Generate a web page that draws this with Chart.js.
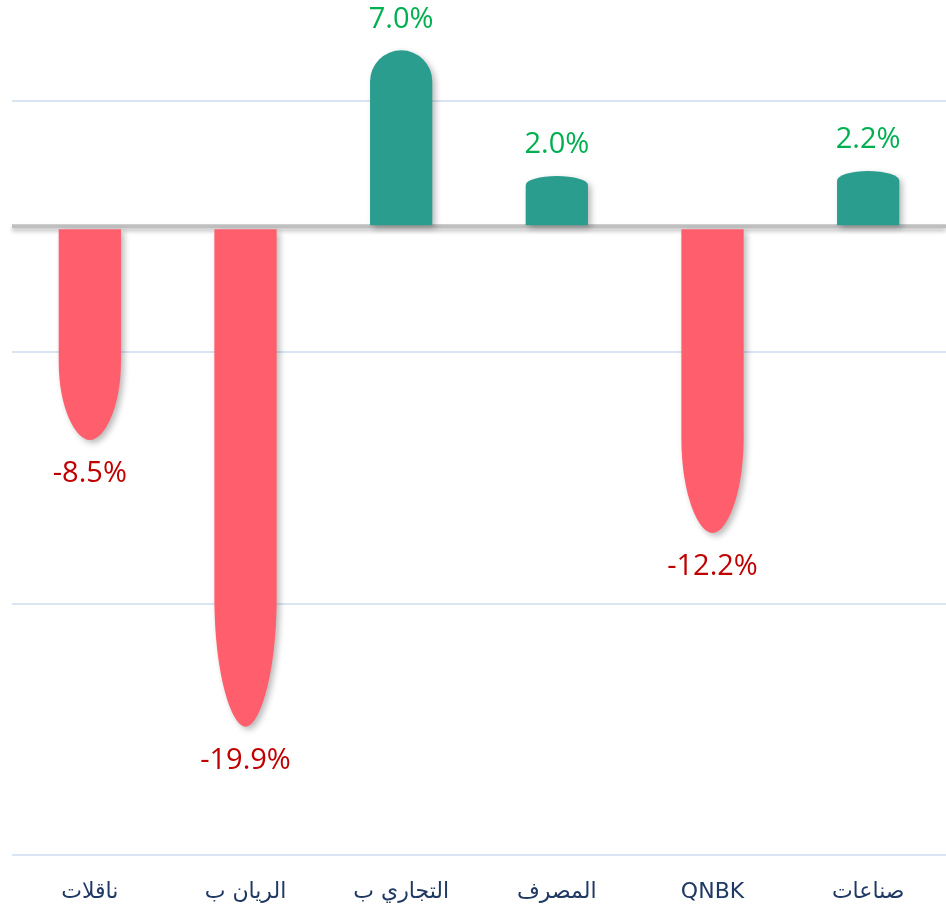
<!DOCTYPE html>
<html>
<head>
<meta charset="utf-8">
<script src="https://cdn.jsdelivr.net/npm/chart.js@4.4.1/dist/chart.umd.min.js"></script>
<style>
    html, body { margin: 0; padding: 0; background: #ffffff; }
    #wrap { width: 946px; height: 908px; position: relative; }
</style>
</head>
<body>
<div id="wrap"><canvas id="changeChart"></canvas></div>
<script>
// Chart data
const categories = ['ناقلات', 'الريان ب', 'التجاري ب', 'المصرف', 'QNBK', 'صناعات'];
const changes = [-8.5, -19.9, 7.0, 2.0, -12.2, 2.2];
const gridTicks = [-25, -15, -5, 0, 5];

const UP_FILL = '#2A9D8F';
const DOWN_FILL = '#FF5F6D';
const UP_TEXT = '#00B050';
const DOWN_TEXT = '#C00000';

// Draw bars with rounded / bullet shaped ends using the element geometry
const bulletBars = {
    id: 'bulletBars',
    beforeDatasetDraw(chart, args) {
        const ctx = chart.ctx;
        const meta = args.meta;
        meta.data.forEach((el, i) => {
            const { x, y, base, width } = el.getProps(['x', 'y', 'base', 'width'], true);
            const hw = width / 2;
            const v = changes[i];
            ctx.save();
            ctx.shadowColor = 'rgba(0,0,0,0.28)';
            ctx.shadowBlur = 6;
            ctx.shadowOffsetX = 3;
            ctx.shadowOffsetY = 3;
            ctx.beginPath();
            if (v >= 0) {
                const h = base - y;
                const ry = Math.min(hw, 0.18 * h);
                ctx.moveTo(x - hw, base);
                ctx.lineTo(x - hw, y + ry);
                ctx.ellipse(x, y + ry, hw, ry, 0, Math.PI, 2 * Math.PI);
                ctx.lineTo(x + hw, base);
                ctx.fillStyle = UP_FILL;
            } else {
                const h = y - base;
                const ry = Math.min(h, 40 + 0.18 * h);
                ctx.moveTo(x - hw, base + 2);
                ctx.lineTo(x - hw, y - ry);
                ctx.bezierCurveTo(x - hw, y - ry * 0.4, x - hw * 0.45, y, x, y);
                ctx.bezierCurveTo(x + hw * 0.45, y, x + hw, y - ry * 0.4, x + hw, y - ry);
                ctx.lineTo(x + hw, base + 2);
                ctx.fillStyle = DOWN_FILL;
            }
            ctx.closePath();
            ctx.fill();
            ctx.restore();
        });
        return false;
    }
};

// Percent labels at the end of each bar
const valueLabels = {
    id: 'valueLabels',
    afterDatasetsDraw(chart) {
        const ctx = chart.ctx;
        const meta = chart.getDatasetMeta(0);
        ctx.save();
        ctx.font = '29px "Open Sans", "Noto Sans", sans-serif';
        ctx.textAlign = 'center';
        ctx.textBaseline = 'middle';
        meta.data.forEach((el, i) => {
            const v = changes[i];
            const txt = v.toFixed(1) + '%';
            if (v >= 0) {
                ctx.fillStyle = UP_TEXT;
                ctx.fillText(txt, el.x, el.y - 31);
            } else {
                ctx.fillStyle = DOWN_TEXT;
                ctx.fillText(txt, el.x, el.y + 34);
            }
        });
        ctx.restore();
    }
};

// Shadow under the zero line
const zeroShadow = {
    id: 'zeroShadow',
    beforeDatasetsDraw(chart) {
        const ctx = chart.ctx;
        const area = chart.chartArea;
        const y0 = chart.scales.y.getPixelForValue(0);
        ctx.save();
        ctx.shadowColor = 'rgba(0,0,0,0.25)';
        ctx.shadowBlur = 4;
        ctx.shadowOffsetY = 3;
        ctx.strokeStyle = '#BFBFBF';
        ctx.lineWidth = 4;
        ctx.beginPath();
        ctx.moveTo(area.left, y0);
        ctx.lineTo(area.right, y0);
        ctx.stroke();
        ctx.restore();
    }
};

const canvas = document.getElementById('changeChart');
new Chart(canvas.getContext('2d'), {
    type: 'bar',
    data: {
        labels: categories,
        datasets: [{
            data: changes,
            backgroundColor: changes.map(v => v >= 0 ? UP_FILL : DOWN_FILL),
            barPercentage: 0.4,
            categoryPercentage: 1.0
        }]
    },
    options: {
        responsive: true,
        maintainAspectRatio: false,
        animation: false,
        layout: { padding: { left: 12, right: 0, top: 0, bottom: 0 } },
        plugins: {
            legend: { display: false },
            tooltip: { enabled: false }
        },
        scales: {
            x: {
                grid: { display: false },
                border: { display: false },
                afterFit(scale) {
                    scale.height = 53;
                },
                ticks: {
                    color: '#1F3864',
                    padding: 16,
                    font: { size: 22, family: '"DejaVu Sans", sans-serif' }
                }
            },
            y: {
                min: -25,
                max: 9,
                afterBuildTicks(scale) {
                    scale.ticks = gridTicks.map(v => ({ value: v }));
                },
                ticks: { display: false },
                border: { display: false },
                grid: {
                    drawTicks: false,
                    color: ctx => ctx.tick && ctx.tick.value === 0 ? 'rgba(0,0,0,0)' : '#DAE5F3',
                    lineWidth: 2
                }
            }
        }
    },
    plugins: [zeroShadow, bulletBars, valueLabels]
});
</script>
</body>
</html>
